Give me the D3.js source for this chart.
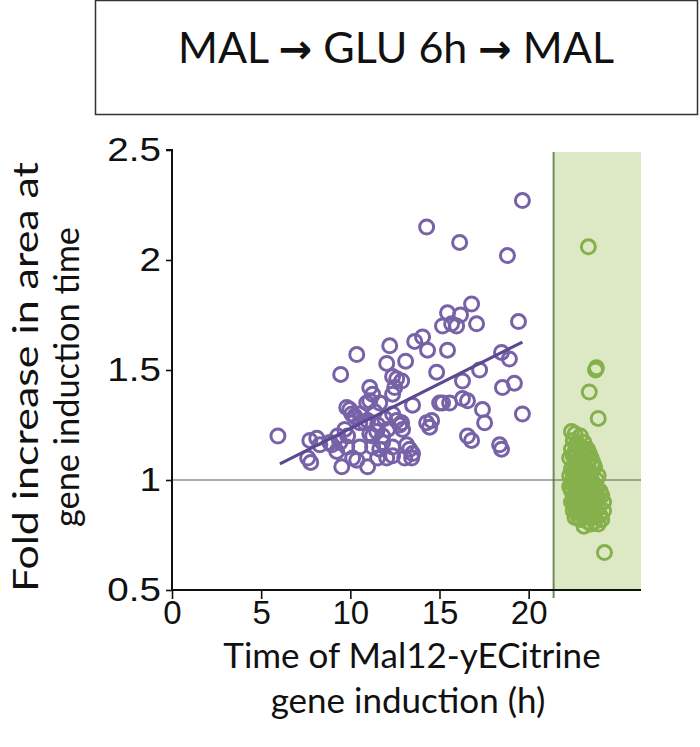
<!DOCTYPE html>
<html><head><meta charset="utf-8">
<script src="https://cdn.jsdelivr.net/npm/d3@7"></script>
<style>body{margin:0;background:#fff}svg{display:block}</style>
</head><body>
<script>
// ---- data ----
const titleParts = ["MAL ", "\u2192", " GLU 6h ", "\u2192", " MAL"];
const yTicks = [0.5, 1, 1.5, 2, 2.5];
const yTickLabels = ["0.5", "1", "1.5", "2", "2.5"];
const xTicks = [0, 5, 10, 15, 20];
const xTickLabels = ["0", "5", "10", "15", "20"];
const xLabelLines = ["Time of Mal12-yECitrine", "gene induction (h)"];
const yLabelLines = ["Fold increase in area at", "gene induction time"];
const shadeStart = 21.4;
const referenceY = 1;
const fitLineX = [6.05, 19.65];
const fitLineY = [1.073, 1.627];
const purpleX = [19.65,14.28,16.13,18.81,16.80,15.45,16.18,17.08,15.17,15.68,15.96,19.43,12.21,13.61,14.05,14.33,15.45,10.36,12.04,13.10,9.46,14.84,18.48,18.92,17.25,12.37,16.29,18.53,19.20,5.94,19.65,17.41,17.53,16.57,16.80,18.37,18.48,14.28,14.56,13.49,15.17,15.57,16.29,16.57,12.60,12.49,12.37,11.09,11.25,9.97,10.25,10.81,11.48,11.81,11.81,12.60,12.77,12.93,7.73,8.12,8.85,9.41,9.80,7.61,7.78,9.24,9.52,10.13,10.97,11.53,12.37,13.33,13.44,13.16,10.08,10.53,10.92,9.80,11.09,10.36,8.96,10.53,10.53,11.25,11.09,11.65,10.97,11.25,11.65,12.37,12.88,13.05,13.49,14.45,15.01,12.04,12.37,12.88,11.53,11.93,12.09,11.37,8.29,9.69,9.85,9.29];
const purpleY = [2.27,2.15,2.08,2.02,1.80,1.76,1.75,1.71,1.70,1.71,1.70,1.72,1.61,1.63,1.65,1.59,1.59,1.57,1.53,1.54,1.48,1.49,1.58,1.55,1.50,1.47,1.45,1.42,1.44,1.20,1.30,1.32,1.26,1.20,1.18,1.16,1.14,1.26,1.27,1.34,1.35,1.35,1.37,1.36,1.46,1.42,1.39,1.36,1.39,1.32,1.29,1.26,1.22,1.20,1.17,1.27,1.25,1.23,1.18,1.19,1.17,1.17,1.15,1.10,1.08,1.13,1.06,1.10,1.06,1.10,1.11,1.14,1.10,1.16,1.30,1.30,1.35,1.33,1.21,1.09,1.16,1.15,1.26,1.15,1.42,1.35,1.27,1.20,1.14,1.30,1.26,1.10,1.12,1.24,1.35,1.10,1.15,1.45,1.25,1.28,1.23,1.31,1.16,1.23,1.20,1.20];
const greenX = [22.4,22.6,22.9,23.1,22.5,22.8,23.3,22.4,22.7,23.0,23.5,22.3,22.9,23.3,23.7,22.5,22.7,23.1,23.5,23.9,22.3,22.8,23.2,23.6,22.5,23.0,23.4,23.8,22.4,22.7,23.1,23.5,23.9,22.5,22.9,23.3,23.7,22.6,23.0,23.4,23.8,22.7,23.2,23.6,22.9,23.3,23.7,23.1,23.5,22.8,23.9,24.0,24.0,22.6,23.2,22.4,23.0,23.4,22.6,23.2,22.8,23.6,23.0,22.6,23.4,23.8,22.3,22.5,23.9,23.3,
  22.5,22.7,22.9,23.1,23.3,23.5,23.7,22.6,22.8,23.0,23.2,23.4,23.6,22.7,22.9,23.1,23.3,22.5,22.4,22.6,22.8,23.0,23.2,23.0,22.8,23.5,23.7,23.8,22.4,22.6,23.4,23.6,22.7,22.5,
  24.2,24.2,24.1,24.1,
  23.35,23.8,23.75,23.4,23.9,24.25];
const greenY = [1.22,1.21,1.20,1.17,1.18,1.16,1.14,1.14,1.12,1.11,1.10,1.10,1.08,1.07,1.06,1.06,1.04,1.03,1.03,1.02,1.02,1.00,0.99,0.99,0.98,0.97,0.96,0.96,0.95,0.94,0.93,0.92,0.92,0.91,0.90,0.89,0.89,0.88,0.87,0.86,0.86,0.85,0.84,0.83,0.82,0.81,0.81,0.79,0.80,0.83,0.88,0.95,0.84,1.08,1.12,1.05,1.05,1.00,0.96,0.95,0.92,0.95,1.14,1.13,1.09,1.00,0.97,0.86,0.80,0.93,
  1.00,0.98,0.96,0.98,1.02,0.97,0.93,0.92,0.89,0.91,0.88,0.83,0.87,1.09,1.13,1.07,1.04,1.03,0.99,1.02,1.06,1.01,0.91,0.84,0.86,0.85,0.84,0.91,0.90,0.83,1.12,1.08,1.17,1.11,
  0.90,0.86,0.93,0.82,
  2.06,1.51,1.50,1.40,1.28,0.67];

// ---- drawing ----
const W = 700, H = 747;
const svg = d3.select("body").append("svg").attr("width", W).attr("height", H);
const pL = 172, pR = 641, pT = 150, pB = 590;
const x = d3.scaleLinear().domain([0, 26.3]).range([pL, pR]);
const y = d3.scaleLinear().domain([0.5, 2.5]).range([pB, pT]);
const textFont = "Lato, 'Open Sans', sans-serif";

// title box
svg.append("rect").attr("x", 95.5).attr("y", 0.5).attr("width", 602).attr("height", 114)
  .attr("fill", "#fff").attr("stroke", "#333").attr("stroke-width", 1.5);
const tt = svg.append("text").attr("x", 396).attr("y", 63).attr("text-anchor", "middle")
  .attr("font-family", textFont).attr("font-size", 43).attr("fill", "#111");
titleParts.forEach(p => {
  const s = tt.append("tspan").text(p);
  if (p === "\u2192") s.attr("font-weight", 700).attr("font-family", "'DejaVu Sans', sans-serif").attr("font-size", 40);
});

// shaded region
svg.append("rect").attr("x", x(shadeStart)).attr("y", pT + 2).attr("width", pR - x(shadeStart))
  .attr("height", pB - pT - 2).attr("fill", "#dde9c5");
svg.append("line").attr("x1", x(shadeStart)).attr("x2", x(shadeStart)).attr("y1", pT + 2).attr("y2", pB + 8)
  .attr("stroke", "#6f8a5f").attr("stroke-width", 2);

// reference line
svg.append("line").attr("x1", pL).attr("x2", pR).attr("y1", y(referenceY)).attr("y2", y(referenceY))
  .attr("stroke", "#555f55").attr("stroke-width", 1.2);

// points
const purple = purpleX.map((v, i) => [v, purpleY[i]]);
const green = greenX.map((v, i) => [v, greenY[i]]);
svg.append("g").selectAll("circle").data(purple).join("circle")
  .attr("cx", d => x(d[0])).attr("cy", d => y(d[1])).attr("r", 7)
  .attr("fill", "none").attr("stroke", "#7762a8").attr("stroke-width", 3);
svg.append("line").attr("x1", x(fitLineX[0])).attr("y1", y(fitLineY[0]))
  .attr("x2", x(fitLineX[1])).attr("y2", y(fitLineY[1]))
  .attr("stroke", "#5a4890").attr("stroke-width", 3);
svg.append("g").selectAll("circle").data(green).join("circle")
  .attr("cx", d => x(d[0])).attr("cy", d => y(d[1])).attr("r", 7)
  .attr("fill", "none").attr("stroke", "#86b04c").attr("stroke-width", 3);

// axes
const yAxis = d3.axisLeft(y).tickValues(yTicks).tickFormat((d, i) => yTickLabels[i]).tickSize(6).tickPadding(6);
const gy = svg.append("g").attr("transform", `translate(${pL},0)`).call(yAxis);
const xAxis = d3.axisBottom(x).tickValues(xTicks).tickFormat((d, i) => xTickLabels[i]).tickSize(9).tickPadding(2);
const gx = svg.append("g").attr("transform", `translate(0,${pB})`).call(xAxis);
[gx, gy].forEach(g => {
  g.select(".domain").attr("stroke", "#111").attr("stroke-width", 2);
  g.selectAll(".tick line").attr("stroke", "#111").attr("stroke-width", 1.6);
  g.selectAll("text").attr("font-family", "'Liberation Sans', Arial, sans-serif")
    .attr("font-size", 33).attr("fill", "#111");
});
const sx = 1.17;
gy.selectAll(".tick text").attr("x", -11 / sx).attr("transform", `scale(${sx},1)`);
gy.select(".domain").attr("d", `M-6,${pT}H0V${pB}`);
gx.select(".domain").attr("d", `M${pL},0H${pR}`);

// axis titles
xLabelLines.forEach((t, i) => {
  svg.append("text").attr("x", 412 - i * 4).attr("y", 668 + i * 45).attr("text-anchor", "middle")
    .attr("font-family", textFont).attr("font-size", 35).attr("fill", "#111").text(t);
});
const yLens = [430, 300];
yLabelLines.forEach((t, i) => {
  svg.append("text").attr("transform", `translate(${38 + i * 41},377) rotate(-90)`)
    .attr("text-anchor", "middle").attr("font-family", textFont).attr("font-size", i === 0 ? 34 : 35)
    .attr("textLength", yLens[i]).attr("lengthAdjust", "spacingAndGlyphs")
    .attr("fill", "#111").text(t);
});
</script>
</body></html>
